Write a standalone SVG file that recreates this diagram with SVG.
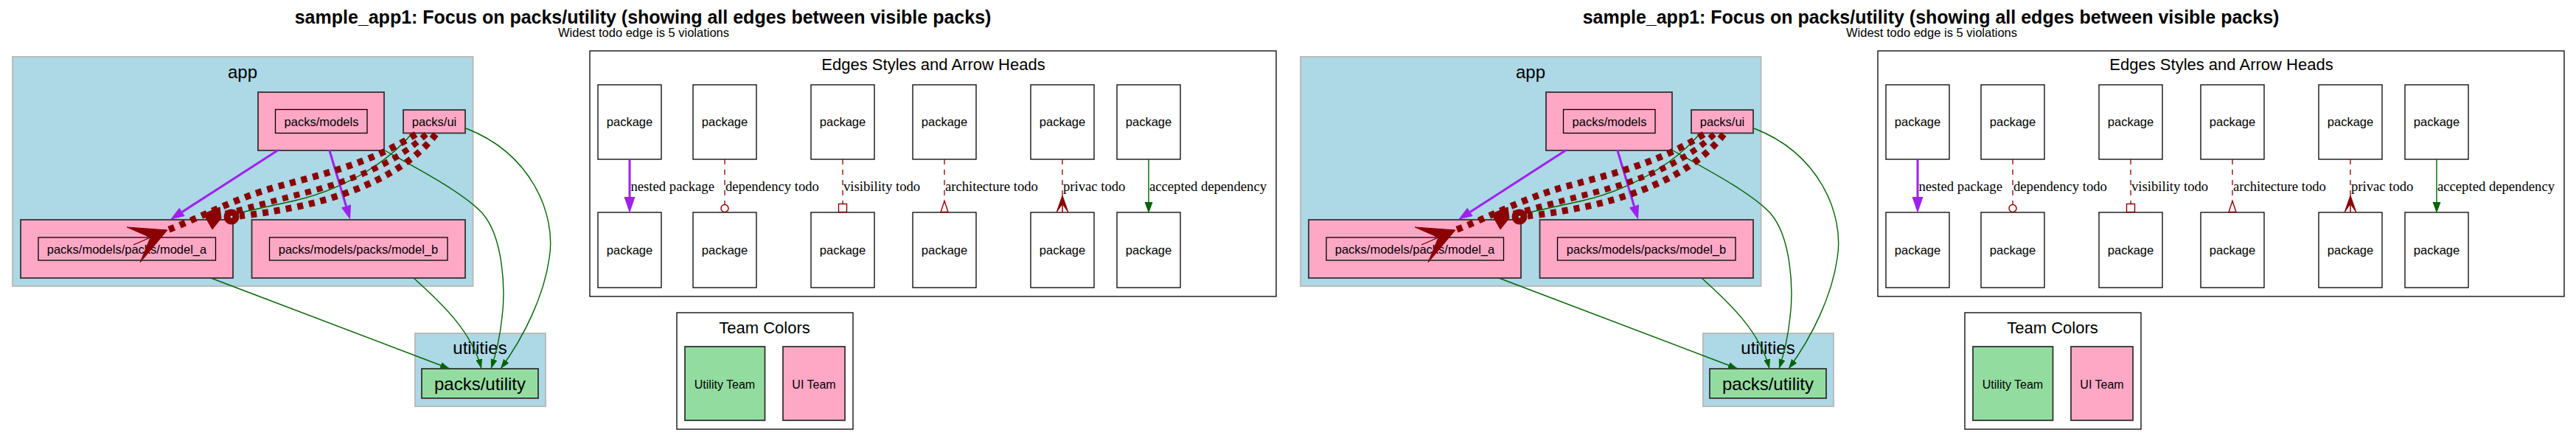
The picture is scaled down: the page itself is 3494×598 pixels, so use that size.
<svg xmlns="http://www.w3.org/2000/svg" width="3494" height="598" viewBox="0 0 3494 598">
<style>
.t{font-family:"Liberation Sans",Arial,Helvetica,sans-serif;fill:#000}
.title{font-size:25px;font-weight:bold;text-anchor:middle}
.sub{font-size:16.5px;text-anchor:middle}
.cl{fill:#add8e6;stroke:#bbbbbb;stroke-width:2}
.cll{font-size:24px;text-anchor:middle}
.pk{fill:#ffa8c6;stroke:#333;stroke-width:1.8}
.pi{fill:#ffa8c6;stroke:#000;stroke-width:1.3}
.gr{fill:#93dc9f;stroke:#333;stroke-width:1.8}
.nt{font-size:16.5px;text-anchor:middle}
.big{font-size:24px;text-anchor:middle}
.lgl{font-size:22px;text-anchor:middle}
.g{fill:none;stroke:#006400;stroke-width:1.4}
.ge{fill:none;stroke:#006400;stroke-width:1.4;marker-end:url(#ga)}
.pu{stroke:#a020f0;stroke-width:3;fill:none}
.puh{fill:#a020f0}
.rd{fill:none;stroke:#8b0000;stroke-dasharray:8,8}
.rdt{fill:none;stroke:#8b0000;stroke-width:1.3;stroke-dasharray:7,7}
.rh{fill:#8b0000;stroke:#8b0000}
.ro{fill:none;stroke:#8b0000;stroke-width:1.4}
.lb{fill:#fff;stroke:#000;stroke-width:1.3}
.el{font-family:"Liberation Serif","Times New Roman",serif;font-size:18.67px;fill:#000}
</style>
<defs>
<marker id="ga" markerUnits="userSpaceOnUse" markerWidth="14" markerHeight="10" refX="13" refY="4.5" orient="auto"><path d="M0,0L13,4.5L0,9z" fill="#006400"/></marker>
</defs>
<rect x="0" y="0" width="3494" height="598" fill="#fff"/>

<g id="copy-left">
<g id="title">
<text class="t title" x="872" y="32">sample_app1: Focus on packs/utility (showing all edges between visible packs)</text>
<text class="t sub" x="873" y="50">Widest todo edge is 5 violations</text>
</g>
<g id="cluster-app"><rect class="cl" x="17" y="77" width="624.5" height="311"/><text class="t cll" x="329" y="106">app</text></g>
<g id="cluster-models"><rect class="pk" x="350" y="125" width="171" height="79"/></g>
<g id="node-models"><rect class="pi" x="373.5" y="148.5" width="124.5" height="32"/><text class="t nt" x="436" y="171">packs/models</text></g>
<g id="node-ui"><rect class="pk" x="547" y="149" width="84" height="31.5"/><text class="t nt" x="589" y="171">packs/ui</text></g>
<g id="cluster-model-a"><rect class="pk" x="28" y="298" width="288" height="79"/></g>
<g id="node-model-a"><rect class="pi" x="52" y="322" width="240.5" height="31"/><text class="t nt" x="172" y="344">packs/models/packs/model_a</text></g>
<g id="cluster-model-b"><rect class="pk" x="341.5" y="298" width="289.5" height="79"/></g>
<g id="node-model-b"><rect class="pi" x="365.5" y="322" width="241.5" height="31"/><text class="t nt" x="486" y="344">packs/models/packs/model_b</text></g>
<g id="cluster-utilities"><rect class="cl" x="563" y="452" width="177" height="99"/><text class="t cll" x="651" y="480">utilities</text></g>
<g id="node-utility"><rect class="gr" x="572" y="500" width="158" height="40"/><text class="t big" x="651" y="529">packs/utility</text></g>

<g id="edges">
<path class="g" d="M558,182 C520,226 460,258 400,272 C360,281 335,286 318,290"/>
<path class="ge" d="M286,377 L610,500"/>
<path class="ge" d="M561,377 C600,412 640,450 653,500"/>
<path class="ge" d="M520,203 C565,228 630,262 655,290 C682,322 686,390 681,430 C678,460 672,482 666,500"/>
<path class="ge" d="M632,174 C720,208 755,290 745,350 C738,400 712,455 679,500"/>
<path class="pu" d="M377.7,203.3 L247,287.4"/><polygon class="puh" points="231,297.7 250.7,293.1 243.3,281.7"/>
<path class="pu" d="M446.7,203.3 L469.5,279.5"/><polygon class="puh" points="475,297.7 463,281.5 476,277.6"/>
<path class="rd" stroke-width="9" d="M564,182 C505,220 440,236 380,252 C320,268 270,296 227,312"/>
<polygon class="rh" stroke-width="1" points="227,312 172,308 204,322 181,332 204,322 190,356"/>
<path class="rd" stroke-width="8" d="M578,182 C530,228 460,250 400,265 C350,278 318,287 296,292"/>
<polygon class="rh" stroke-width="1" points="276,290 298,281 300,296 288,311"/>
<path class="rd" stroke-width="9" d="M591,182 C550,236 472,266 400,281 C365,288 342,291 325,293"/>
<circle cx="314" cy="294" r="6" fill="none" stroke="#8b0000" stroke-width="9"/>
</g>

<g id="legend-edges">
<rect class="lb" x="800" y="69" width="931" height="333"/>
<text class="t lgl" x="1266" y="95">Edges Styles and Arrow Heads</text>
<g id="lg-p1"><rect class="lb" x="811" y="115" width="86" height="101"/><text class="t nt" x="854" y="171">package</text></g>
<g id="lg-p2"><rect class="lb" x="940" y="115" width="86" height="101"/><text class="t nt" x="983" y="171">package</text></g>
<g id="lg-p3"><rect class="lb" x="1100" y="115" width="86" height="101"/><text class="t nt" x="1143" y="171">package</text></g>
<g id="lg-p4"><rect class="lb" x="1238" y="115" width="86" height="101"/><text class="t nt" x="1281" y="171">package</text></g>
<g id="lg-p5"><rect class="lb" x="1398" y="115" width="86" height="101"/><text class="t nt" x="1441" y="171">package</text></g>
<g id="lg-p6"><rect class="lb" x="1515" y="115" width="86" height="101"/><text class="t nt" x="1558" y="171">package</text></g>
<g id="lg-q1"><rect class="lb" x="811" y="288" width="86" height="102"/><text class="t nt" x="854" y="345">package</text></g>
<g id="lg-q2"><rect class="lb" x="940" y="288" width="86" height="102"/><text class="t nt" x="983" y="345">package</text></g>
<g id="lg-q3"><rect class="lb" x="1100" y="288" width="86" height="102"/><text class="t nt" x="1143" y="345">package</text></g>
<g id="lg-q4"><rect class="lb" x="1238" y="288" width="86" height="102"/><text class="t nt" x="1281" y="345">package</text></g>
<g id="lg-q5"><rect class="lb" x="1398" y="288" width="86" height="102"/><text class="t nt" x="1441" y="345">package</text></g>
<g id="lg-q6"><rect class="lb" x="1515" y="288" width="86" height="102"/><text class="t nt" x="1558" y="345">package</text></g>
<g id="lg-edges">
<path class="pu" d="M854,216 L854,268"/><polygon class="puh" points="846.5,267 861.5,267 854,289"/>
<text class="el" x="855.5" y="258.5">nested package</text>
<path class="rdt" d="M983,216 L983,277.5"/><circle class="ro" cx="983" cy="282.5" r="5"/>
<text class="el" x="984" y="258.5">dependency todo</text>
<path class="rdt" d="M1143,216 L1143,276.5"/><rect class="ro" x="1137.5" y="276.5" width="11" height="11"/>
<text class="el" x="1144" y="258.5">visibility todo</text>
<path class="rdt" d="M1281,216 L1281,272.5"/><polygon class="ro" points="1281,272.5 1276,287.5 1286,287.5"/>
<text class="el" x="1282" y="258.5">architecture todo</text>
<path class="rdt" d="M1441,216 L1441,265"/><polygon class="rh" stroke-width="1" points="1441,265 1433,288 1441,276.5 1441,288 1441,276.5 1449,288"/>
<text class="el" x="1442" y="258.5">privac todo</text>
<path class="g" d="M1558,216 L1558,274"/><polygon fill="#006400" points="1552.5,274 1563.5,274 1558,289"/>
<text class="el" x="1559" y="258.5">accepted dependency</text>
</g>
</g>

<g id="legend-teams">
<rect class="lb" x="918" y="424" width="239" height="158"/>
<text class="t lgl" x="1037" y="452">Team Colors</text>
<g id="team-utility"><rect class="gr" x="929" y="470" width="108.5" height="100"/><text class="t" font-size="16px" text-anchor="middle" x="983" y="526.5">Utility Team</text></g>
<g id="team-ui"><rect class="pk" x="1062" y="470" width="84" height="100"/><text class="t" font-size="16px" text-anchor="middle" x="1104" y="526.5">UI Team</text></g>
</g>
</g>

<g id="copy-right" transform="translate(1747,0)">
<g id="title-r">
<text class="t title" x="872" y="32">sample_app1: Focus on packs/utility (showing all edges between visible packs)</text>
<text class="t sub" x="873" y="50">Widest todo edge is 5 violations</text>
</g>
<g id="cluster-app-r"><rect class="cl" x="17" y="77" width="624.5" height="311"/><text class="t cll" x="329" y="106">app</text></g>
<g id="cluster-models-r"><rect class="pk" x="350" y="125" width="171" height="79"/></g>
<g id="node-models-r"><rect class="pi" x="373.5" y="148.5" width="124.5" height="32"/><text class="t nt" x="436" y="171">packs/models</text></g>
<g id="node-ui-r"><rect class="pk" x="547" y="149" width="84" height="31.5"/><text class="t nt" x="589" y="171">packs/ui</text></g>
<g id="cluster-model-a-r"><rect class="pk" x="28" y="298" width="288" height="79"/></g>
<g id="node-model-a-r"><rect class="pi" x="52" y="322" width="240.5" height="31"/><text class="t nt" x="172" y="344">packs/models/packs/model_a</text></g>
<g id="cluster-model-b-r"><rect class="pk" x="341.5" y="298" width="289.5" height="79"/></g>
<g id="node-model-b-r"><rect class="pi" x="365.5" y="322" width="241.5" height="31"/><text class="t nt" x="486" y="344">packs/models/packs/model_b</text></g>
<g id="cluster-utilities-r"><rect class="cl" x="563" y="452" width="177" height="99"/><text class="t cll" x="651" y="480">utilities</text></g>
<g id="node-utility-r"><rect class="gr" x="572" y="500" width="158" height="40"/><text class="t big" x="651" y="529">packs/utility</text></g>

<g id="edges-r">
<path class="g" d="M558,182 C520,226 460,258 400,272 C360,281 335,286 318,290"/>
<path class="ge" d="M286,377 L610,500"/>
<path class="ge" d="M561,377 C600,412 640,450 653,500"/>
<path class="ge" d="M520,203 C565,228 630,262 655,290 C682,322 686,390 681,430 C678,460 672,482 666,500"/>
<path class="ge" d="M632,174 C720,208 755,290 745,350 C738,400 712,455 679,500"/>
<path class="pu" d="M377.7,203.3 L247,287.4"/><polygon class="puh" points="231,297.7 250.7,293.1 243.3,281.7"/>
<path class="pu" d="M446.7,203.3 L469.5,279.5"/><polygon class="puh" points="475,297.7 463,281.5 476,277.6"/>
<path class="rd" stroke-width="9" d="M564,182 C505,220 440,236 380,252 C320,268 270,296 227,312"/>
<polygon class="rh" stroke-width="1" points="227,312 172,308 204,322 181,332 204,322 190,356"/>
<path class="rd" stroke-width="8" d="M578,182 C530,228 460,250 400,265 C350,278 318,287 296,292"/>
<polygon class="rh" stroke-width="1" points="276,290 298,281 300,296 288,311"/>
<path class="rd" stroke-width="9" d="M591,182 C550,236 472,266 400,281 C365,288 342,291 325,293"/>
<circle cx="314" cy="294" r="6" fill="none" stroke="#8b0000" stroke-width="9"/>
</g>

<g id="legend-edges-r">
<rect class="lb" x="800" y="69" width="931" height="333"/>
<text class="t lgl" x="1266" y="95">Edges Styles and Arrow Heads</text>
<g id="lg-p1-r"><rect class="lb" x="811" y="115" width="86" height="101"/><text class="t nt" x="854" y="171">package</text></g>
<g id="lg-p2-r"><rect class="lb" x="940" y="115" width="86" height="101"/><text class="t nt" x="983" y="171">package</text></g>
<g id="lg-p3-r"><rect class="lb" x="1100" y="115" width="86" height="101"/><text class="t nt" x="1143" y="171">package</text></g>
<g id="lg-p4-r"><rect class="lb" x="1238" y="115" width="86" height="101"/><text class="t nt" x="1281" y="171">package</text></g>
<g id="lg-p5-r"><rect class="lb" x="1398" y="115" width="86" height="101"/><text class="t nt" x="1441" y="171">package</text></g>
<g id="lg-p6-r"><rect class="lb" x="1515" y="115" width="86" height="101"/><text class="t nt" x="1558" y="171">package</text></g>
<g id="lg-q1-r"><rect class="lb" x="811" y="288" width="86" height="102"/><text class="t nt" x="854" y="345">package</text></g>
<g id="lg-q2-r"><rect class="lb" x="940" y="288" width="86" height="102"/><text class="t nt" x="983" y="345">package</text></g>
<g id="lg-q3-r"><rect class="lb" x="1100" y="288" width="86" height="102"/><text class="t nt" x="1143" y="345">package</text></g>
<g id="lg-q4-r"><rect class="lb" x="1238" y="288" width="86" height="102"/><text class="t nt" x="1281" y="345">package</text></g>
<g id="lg-q5-r"><rect class="lb" x="1398" y="288" width="86" height="102"/><text class="t nt" x="1441" y="345">package</text></g>
<g id="lg-q6-r"><rect class="lb" x="1515" y="288" width="86" height="102"/><text class="t nt" x="1558" y="345">package</text></g>
<g id="lg-edges-r">
<path class="pu" d="M854,216 L854,268"/><polygon class="puh" points="846.5,267 861.5,267 854,289"/>
<text class="el" x="855.5" y="258.5">nested package</text>
<path class="rdt" d="M983,216 L983,277.5"/><circle class="ro" cx="983" cy="282.5" r="5"/>
<text class="el" x="984" y="258.5">dependency todo</text>
<path class="rdt" d="M1143,216 L1143,276.5"/><rect class="ro" x="1137.5" y="276.5" width="11" height="11"/>
<text class="el" x="1144" y="258.5">visibility todo</text>
<path class="rdt" d="M1281,216 L1281,272.5"/><polygon class="ro" points="1281,272.5 1276,287.5 1286,287.5"/>
<text class="el" x="1282" y="258.5">architecture todo</text>
<path class="rdt" d="M1441,216 L1441,265"/><polygon class="rh" stroke-width="1" points="1441,265 1433,288 1441,276.5 1441,288 1441,276.5 1449,288"/>
<text class="el" x="1442" y="258.5">privac todo</text>
<path class="g" d="M1558,216 L1558,274"/><polygon fill="#006400" points="1552.5,274 1563.5,274 1558,289"/>
<text class="el" x="1559" y="258.5">accepted dependency</text>
</g>
</g>

<g id="legend-teams-r">
<rect class="lb" x="918" y="424" width="239" height="158"/>
<text class="t lgl" x="1037" y="452">Team Colors</text>
<g id="team-utility-r"><rect class="gr" x="929" y="470" width="108.5" height="100"/><text class="t" font-size="16px" text-anchor="middle" x="983" y="526.5">Utility Team</text></g>
<g id="team-ui-r"><rect class="pk" x="1062" y="470" width="84" height="100"/><text class="t" font-size="16px" text-anchor="middle" x="1104" y="526.5">UI Team</text></g>
</g>
</g>
</svg>
